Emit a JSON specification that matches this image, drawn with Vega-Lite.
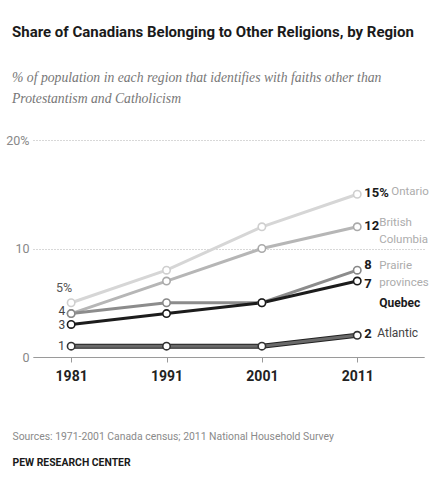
{
  "$schema": "https://vega.github.io/schema/vega-lite/v6.json",
  "width": 391,
  "height": 217,
  "autosize": {"type": "none"},
  "padding": {"left": 33, "top": 140, "right": 5, "bottom": 130},
  "background": "white",
  "config": {
    "view": {"stroke": null},
    "font": "Roboto, sans-serif"
  },
  "title": {
    "text": "Share of Canadians Belonging to Other Religions, by Region",
    "subtitle": ["% of population in each region that identifies with faiths other than", "Protestantism and Catholicism"],
    "anchor": "start",
    "frame": "group",
    "dx": -21,
    "offset": 28,
    "font": "Roboto, sans-serif",
    "fontSize": 15,
    "fontWeight": "bold",
    "color": "#1a1a1a",
    "subtitleFont": "Liberation Serif, DejaVu Serif, serif",
    "subtitleFontStyle": "italic",
    "subtitleFontSize": 13.7,
    "subtitleColor": "#777777",
    "subtitlePadding": 31,
    "subtitleLineHeight": 21
  },
  "datasets": {
    "series": [
      {"region": "Ontario", "year": 1981, "value": 5},
      {"region": "Ontario", "year": 1991, "value": 8},
      {"region": "Ontario", "year": 2001, "value": 12},
      {"region": "Ontario", "year": 2011, "value": 15},
      {"region": "British Columbia", "year": 1981, "value": 4},
      {"region": "British Columbia", "year": 1991, "value": 7},
      {"region": "British Columbia", "year": 2001, "value": 10},
      {"region": "British Columbia", "year": 2011, "value": 12},
      {"region": "Prairie provinces", "year": 1981, "value": 4},
      {"region": "Prairie provinces", "year": 1991, "value": 5},
      {"region": "Prairie provinces", "year": 2001, "value": 5},
      {"region": "Prairie provinces", "year": 2011, "value": 8},
      {"region": "Atlantic", "year": 1981, "value": 1},
      {"region": "Atlantic", "year": 1991, "value": 1},
      {"region": "Atlantic", "year": 2001, "value": 1},
      {"region": "Atlantic", "year": 2011, "value": 2},
      {"region": "Quebec", "year": 1981, "value": 3},
      {"region": "Quebec", "year": 1991, "value": 4},
      {"region": "Quebec", "year": 2001, "value": 5},
      {"region": "Quebec", "year": 2011, "value": 7}
    ],
    "endLabels": [
      {"region": "Ontario", "year": 2011, "value": 15, "text": "15%"},
      {"region": "British Columbia", "year": 2011, "value": 12, "text": "12"},
      {"region": "Atlantic", "year": 2011, "value": 2, "text": "2"}
    ],
    "grayNames": [
      {"region": "Ontario", "year": 2011, "value": 15, "name": "Ontario"},
      {"region": "British Columbia", "year": 2011, "value": 12, "name": "British\nColumbia"},
      {"region": "Prairie provinces", "year": 2011, "value": 8, "name": "Prairie\nprovinces"}
    ]
  },
  "data": {"name": "series"},
  "encoding": {
    "x": {
      "field": "year",
      "type": "quantitative",
      "scale": {"domain": [1977, 2018], "nice": false, "zero": false},
      "axis": {
        "values": [1981, 1991, 2001, 2011],
        "format": "d",
        "grid": false,
        "domainColor": "#9a9a9a",
        "domainWidth": 1,
        "tickColor": "#9a9a9a",
        "tickSize": 5,
        "labelPadding": 7,
        "labelFontSize": 14,
        "labelFontWeight": "bold",
        "labelColor": "#222222",
        "title": "PEW RESEARCH CENTER",
        "titleX": -21,
        "titleY": 105,
        "titleAlign": "left",
        "titleAnchor": "start",
        "titleBaseline": "middle",
        "titleFontSize": 10.4,
        "titleFontWeight": "bold",
        "titleColor": "#1a1a1a"
      }
    },
    "y": {
      "field": "value",
      "type": "quantitative",
      "scale": {"domain": [0, 20], "nice": false},
      "axis": {
        "values": [0, 10, 20],
        "labelExpr": "datum.value == 20 ? '20%' : datum.label",
        "domain": false,
        "ticks": false,
        "grid": true,
        "gridDash": [1, 2],
        "gridColor": "#b0b0b0",
        "labelPadding": 4,
        "labelFontSize": 12.5,
        "labelColor": "#888888",
        "title": "Sources: 1971-2001 Canada census; 2011 National Household Survey",
        "titleAngle": 0,
        "titleX": -21,
        "titleY": 296,
        "titleAlign": "left",
        "titleAnchor": "start",
        "titleBaseline": "middle",
        "titleFontSize": 10.4,
        "titleFontWeight": "normal",
        "titleColor": "#8a8a8a"
      }
    }
  },
  "layer": [
    {
      "transform": [{"filter": "datum.region == 'Atlantic'"}],
      "mark": {"type": "line", "color": "#222222", "strokeWidth": 5}
    },
    {
      "mark": {"type": "line", "strokeWidth": 3},
      "encoding": {
        "color": {
          "field": "region",
          "type": "nominal",
          "scale": {
            "domain": ["Ontario", "British Columbia", "Prairie provinces", "Atlantic", "Quebec"],
            "range": ["#d6d6d6", "#b6b6b6", "#8c8c8c", "#6a6a6a", "#1c1c1c"]
          },
          "legend": null
        }
      }
    },
    {
      "mark": {"type": "point", "filled": false, "fill": "white", "size": 55, "strokeWidth": 1.6, "opacity": 1},
      "encoding": {
        "stroke": {
          "field": "region",
          "type": "nominal",
          "scale": {
            "domain": ["Ontario", "British Columbia", "Prairie provinces", "Atlantic", "Quebec"],
            "range": ["#cfcfcf", "#aaaaaa", "#888888", "#333333", "#1a1a1a"]
          },
          "legend": null
        }
      }
    },
    {
      "data": {"values": [{"year": 2011}]},
      "mark": {"type": "rule", "color": "#555555", "strokeWidth": 1},
      "encoding": {"x": {"field": "year", "type": "quantitative"}, "y": {"datum": 6.5}, "y2": {"datum": 5.05}}
    },
    {
      "data": {"values": [{"year": 2011}]},
      "mark": {"type": "rule", "color": "#555555", "strokeWidth": 1},
      "encoding": {"x": {"field": "year", "type": "quantitative"}, "x2": {"datum": 2013}, "y": {"datum": 5.05}}
    },
    {
      "data": {"values": [{"region": "Ontario", "year": 1981, "value": 5, "text": "5%"}]},
      "mark": {"type": "text", "align": "center", "baseline": "middle", "dx": -7, "dy": -15, "fontSize": 12.5, "color": "#555555"},
      "encoding": {"text": {"field": "text"}}
    },
    {
      "data": {"values": [{"region": "British Columbia", "year": 1981, "value": 4, "text": "4"}]},
      "mark": {"type": "text", "align": "right", "baseline": "middle", "dx": -6, "dy": -3, "fontSize": 12, "color": "#444444"},
      "encoding": {"text": {"field": "text"}}
    },
    {
      "data": {"values": [{"region": "Quebec", "year": 1981, "value": 3, "text": "3"}]},
      "mark": {"type": "text", "align": "right", "baseline": "middle", "dx": -6, "dy": 1, "fontSize": 12, "color": "#444444"},
      "encoding": {"text": {"field": "text"}}
    },
    {
      "data": {"values": [{"region": "Atlantic", "year": 1981, "value": 1, "text": "1"}]},
      "mark": {"type": "text", "align": "right", "baseline": "middle", "dx": -6, "dy": 0, "fontSize": 12.5, "color": "#444444"},
      "encoding": {"text": {"field": "text"}}
    },
    {
      "data": {"name": "endLabels"},
      "mark": {"type": "text", "align": "left", "baseline": "middle", "dx": 7, "dy": -1, "fontSize": 13, "fontWeight": "bold", "color": "#1a1a1a"},
      "encoding": {"text": {"field": "text"}}
    },
    {
      "data": {"values": [{"region": "Prairie provinces", "year": 2011, "value": 8, "text": "8"}]},
      "mark": {"type": "text", "align": "left", "baseline": "middle", "dx": 7, "dy": -5, "fontSize": 13, "fontWeight": "bold", "color": "#1a1a1a"},
      "encoding": {"text": {"field": "text"}}
    },
    {
      "data": {"values": [{"region": "Quebec", "year": 2011, "value": 7, "text": "7"}]},
      "mark": {"type": "text", "align": "left", "baseline": "middle", "dx": 7, "dy": 3, "fontSize": 13, "fontWeight": "bold", "color": "#1a1a1a"},
      "encoding": {"text": {"field": "text"}}
    },
    {
      "data": {"name": "grayNames"},
      "transform": [{"filter": "datum.region == 'Ontario'"}],
      "mark": {"type": "text", "align": "left", "baseline": "middle", "dx": 34, "dy": -2, "fontSize": 11.5, "color": "#acacac"},
      "encoding": {"text": {"field": "name"}}
    },
    {
      "data": {"name": "grayNames"},
      "transform": [{"filter": "datum.region != 'Ontario'"}],
      "mark": {"type": "text", "align": "left", "baseline": "top", "dx": 22, "dy": -10, "fontSize": 11.5, "lineHeight": 17, "lineBreak": "\n", "color": "#acacac"},
      "encoding": {"text": {"field": "name"}}
    },
    {
      "data": {"values": [{"region": "Quebec", "year": 2011, "value": 7, "name": "Quebec"}]},
      "mark": {"type": "text", "align": "left", "baseline": "middle", "dx": 22, "dy": 22, "fontSize": 12, "fontWeight": "bold", "color": "#1a1a1a"},
      "encoding": {"text": {"field": "name"}}
    },
    {
      "data": {"values": [{"region": "Atlantic", "year": 2011, "value": 2, "name": "Atlantic"}]},
      "mark": {"type": "text", "align": "left", "baseline": "middle", "dx": 20, "dy": -2, "fontSize": 12, "color": "#444444"},
      "encoding": {"text": {"field": "name"}}
    }
  ]
}
